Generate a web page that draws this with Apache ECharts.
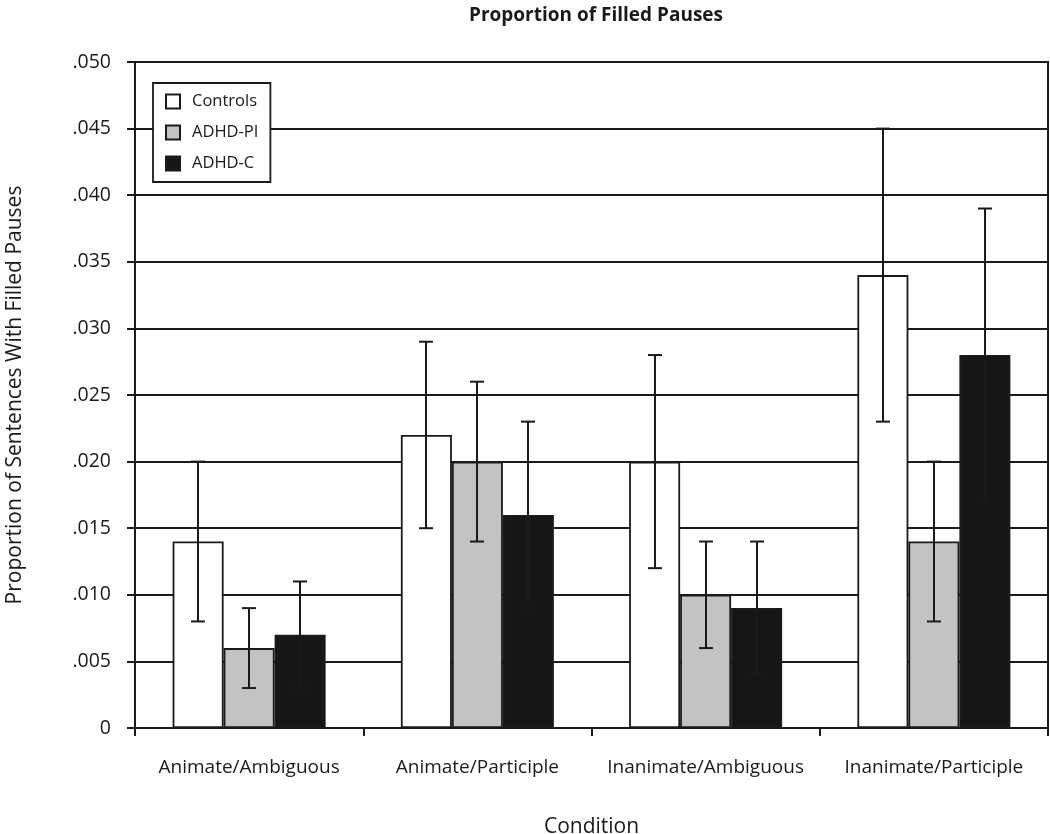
<!DOCTYPE html>
<html>
<head>
<meta charset="utf-8">
<script src="https://cdn.jsdelivr.net/npm/echarts@6/dist/echarts.min.js"></script>
<style>
html,body{margin:0;padding:0;background:#fff;}
#chart{width:1050px;height:834px;}
</style>
</head>
<body>
<div id="chart"></div>
<script>
const categories = ['Animate/Ambiguous', 'Animate/Participle', 'Inanimate/Ambiguous', 'Inanimate/Participle'];
const seriesNames = ['Controls', 'ADHD-PI', 'ADHD-C'];
const controls = [0.014, 0.022, 0.020, 0.034];
const adhdPI = [0.006, 0.020, 0.010, 0.014];
const adhdC = [0.007, 0.016, 0.009, 0.028];
const controlsErr = [0.006, 0.007, 0.008, 0.011];
const adhdPIErr = [0.003, 0.006, 0.004, 0.006];
const adhdCErr = [0.004, 0.007, 0.005, 0.011];

const values = [controls, adhdPI, adhdC];
const errs = [controlsErr, adhdPIErr, adhdCErr];
const fills = ['#ffffff', '#c3c3c3', '#161616'];
const INK = '#1a1a1a';
const FONT = '"Open Sans", "Noto Sans", sans-serif';
const BAR_W = 51;

const chart = echarts.init(document.getElementById('chart'), null, {renderer: 'canvas'});

const series = [];
values.forEach((vals, si) => {
  series.push({
    name: seriesNames[si],
    type: 'bar',
    data: vals,
    barWidth: BAR_W,
    barGap: '0%',
    itemStyle: {color: fills[si], borderColor: INK, borderWidth: 1.8},
    emphasis: {disabled: true},
    z: 2
  });
});
values.forEach((vals, si) => {
  const offset = (si - 1) * BAR_W;
  series.push({
    name: seriesNames[si] + ' err',
    type: 'custom',
    data: vals.map((v, i) => [i, v - errs[si][i], v + errs[si][i]]),
    z: 5,
    silent: true,
    renderItem: function (params, api) {
      const c = api.value(0);
      const lo = api.coord([c, api.value(1)]);
      const hi = api.coord([c, api.value(2)]);
      const x = Math.round(lo[0] + offset);
      const cap = 7;
      const style = {stroke: INK, lineWidth: 2};
      return {
        type: 'group',
        children: [
          {type: 'line', shape: {x1: x, y1: lo[1], x2: x, y2: hi[1]}, style: style},
          {type: 'line', shape: {x1: x - cap, y1: lo[1], x2: x + cap, y2: lo[1]}, style: style},
          {type: 'line', shape: {x1: x - cap, y1: hi[1], x2: x + cap, y2: hi[1]}, style: style}
        ]
      };
    }
  });
});

chart.setOption({
  animation: false,
  backgroundColor: '#fff',
  title: {
    text: 'Proportion of Filled Pauses',
    left: 591,
    textAlign: 'center',
    top: 1,
    textStyle: {fontFamily: FONT, fontWeight: 'bold', fontSize: 19, color: INK}
  },
  legend: {
    data: seriesNames,
    orient: 'vertical',
    left: 153,
    top: 83,
    icon: 'rect',
    itemWidth: 14,
    itemHeight: 14,
    itemGap: 14,
    padding: [10, 12, 10, 12],
    borderColor: INK,
    borderWidth: 1.8,
    backgroundColor: '#fff',
    selectedMode: false,
    textStyle: {fontFamily: FONT, fontSize: 16.5, color: INK, padding: [0, 0, 0, 7]}
  },
  grid: {
    left: 135, right: 2, top: 62, bottom: 106,
    outerBoundsMode: 'none',
    containLabel: false,
    show: true, borderColor: INK, borderWidth: 2, backgroundColor: 'transparent'
  },
  xAxis: {
    type: 'category',
    data: categories,
    name: 'Condition',
    nameLocation: 'middle',
    nameGap: 89,
    nameTextStyle: {fontFamily: FONT, fontSize: 21, color: INK},
    axisLine: {lineStyle: {color: INK, width: 2}},
    axisTick: {show: true, length: 8, lineStyle: {color: INK, width: 2}},
    axisLabel: {fontFamily: FONT, fontSize: 19, color: INK, margin: 30, interval: 0},
    splitLine: {show: false}
  },
  yAxis: {
    type: 'value',
    min: 0,
    max: 0.05,
    interval: 0.005,
    name: 'Proportion of Sentences With Filled Pauses',
    nameLocation: 'middle',
    nameGap: 109,
    nameTextStyle: {fontFamily: FONT, fontSize: 21, color: INK},
    axisLine: {show: true, lineStyle: {color: INK, width: 2}},
    axisTick: {show: true, length: 8, lineStyle: {color: INK, width: 2}},
    axisLabel: {
      fontFamily: FONT, fontSize: 19.5, color: INK, margin: 24,
      formatter: function (v) {
        const m = Math.round(v * 1000);
        if (m === 0) return '0';
        return '.' + String(m).padStart(3, '0');
      }
    },
    splitLine: {show: true, lineStyle: {color: INK, width: 2}}
  },
  series: series
});
</script>
</body>
</html>
